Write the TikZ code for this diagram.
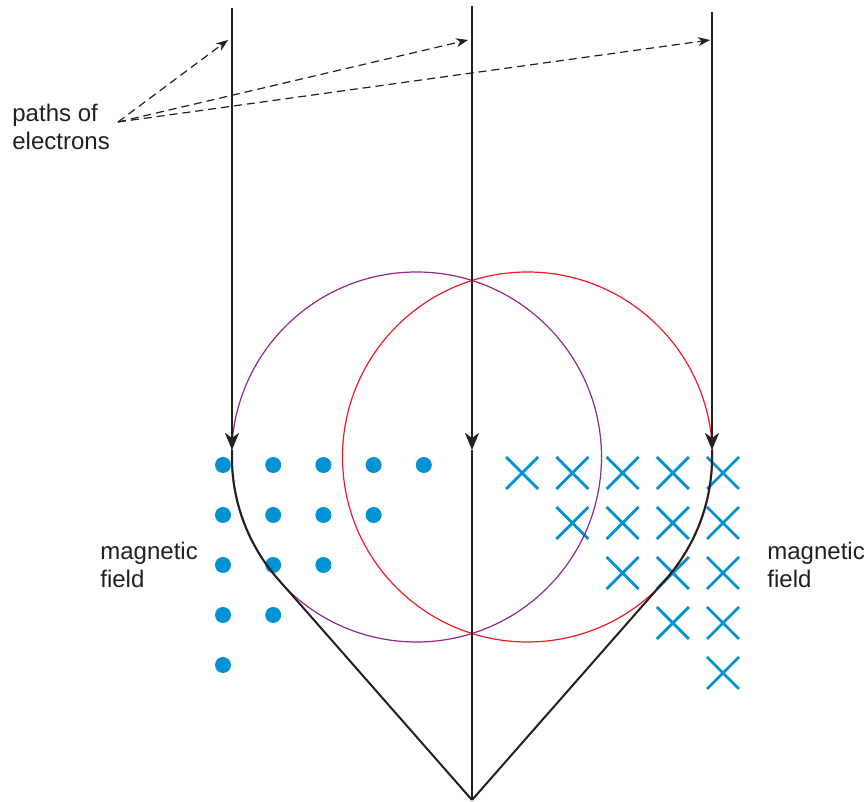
\documentclass[tikz,border=0pt]{standalone}
\usepackage{fontspec}
\setmainfont{Liberation Sans}
\usepackage{tikz}
\usetikzlibrary{positioning, arrows.meta}
\definecolor{fieldblue}{RGB}{0,146,212}
\definecolor{orbitpurple}{RGB}{146,39,143}
\definecolor{orbitred}{RGB}{237,28,36}
\definecolor{ink}{RGB}{35,31,32}

\begin{document}
\begin{tikzpicture}[
    x=0.5pt, y=0.5pt,
    beam/.style={draw=ink, line width=1pt},
    beamarr/.style={beam, -{Stealth[length=8.5pt, width=7pt, inset=2.5pt]}},
    orbit/.style={line width=0.6pt},
    pointer/.style={draw=ink, dash pattern=on 4pt off 2.5pt, line width=0.6pt, -{Stealth[length=6pt, width=4.5pt]}},
    tag/.style={align=left, anchor=west, font=\fontsize{12}{14}\selectfont, text=ink, inner sep=0pt},
    dotout/.style={fill=fieldblue},
    crossin/.style={draw=fieldblue, line width=1.4pt}
]
\useasboundingbox (0,0) rectangle (868,802);

% field out of the page (left) and into the page (right)
\foreach \r/\n in {0/4,1/3,2/2,3/1,4/0}
  \foreach \c in {0,...,\n}
    \fill[dotout] (223+50.2*\c, 337-50*\r) circle[radius=8];
\foreach \r/\n in {0/4,1/3,2/2,3/1,4/0}
  \foreach \c in {0,...,\n}
    \draw[crossin] (707-50.2*\c, 313-50*\r) -- ++(32,32)
                   (707-50.2*\c, 345-50*\r) -- ++(32,-32);

% circular paths
\coordinate (lcen) at (416.5,345);
\coordinate (rcen) at (527.5,345);
\draw[orbit, orbitpurple] (lcen) circle[radius=185];
\draw[orbit, orbitred] (rcen) circle[radius=185];

% electron beams
\coordinate (apex) at (472,2);
\coordinate (ltop) at (232,794);
\coordinate (lhead) at (232,352);
\coordinate (lturn) at (232,345);
\coordinate (mtop) at (472,796);
\coordinate (mhead) at (472,352);
\coordinate (rtop) at (712,790);
\coordinate (rhead) at (712,352);
\coordinate (rturn) at (712,345);

\draw[beamarr] (ltop) -- (lhead);
\draw[beam] (lhead) -- (lturn) arc[start angle=180, end angle=221.4, radius=185] -- (apex);
\draw[beamarr] (mtop) -- (mhead);
\draw[beam] (mhead) -- (apex);
\draw[beamarr] (rtop) -- (rhead);
\draw[beam] (rhead) -- (rturn) arc[start angle=0, end angle=-41.4, radius=185] -- (apex);

% labels
\node[tag] (paths) at (12,675) {paths of\\electrons};
\node[tag] (fieldl) at (100,237) {magnetic\\field};
\node[tag] (fieldr) at (767,237) {magnetic\\field};

\coordinate (ptr) at (118,680);
\coordinate (lpt) at (228,762);
\coordinate (mpt) at (468,762);
\coordinate (rpt) at (710,762);
\draw[pointer] (ptr) -- (lpt);
\draw[pointer] (ptr) -- (mpt);
\draw[pointer] (ptr) -- (rpt);
\end{tikzpicture}
\end{document}
